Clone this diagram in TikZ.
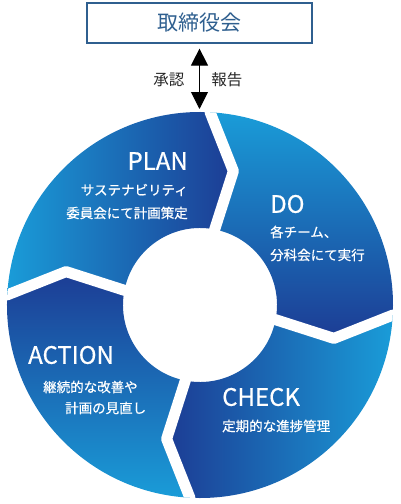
\documentclass[tikz,border=0pt]{standalone}
\usepackage{fontspec}
\setmainfont{Noto Sans CJK JP}
\newfontfamily\medfont{Noto Sans CJK JP}[FakeBold=0.6]
\usetikzlibrary{arrows.meta}
\definecolor{lightb}{HTML}{1A9CD8}
\definecolor{darkb}{HTML}{1C3C94}
\definecolor{titleblue}{HTML}{2F5F8F}
\begin{document}
\begin{tikzpicture}[x=1pt,y=1pt,
  seg/.style={top color=darkb, bottom color=lightb, shading angle=#1},
  gap/.style={draw=white, line width=11pt, line join=round, line cap=round},
  head/.style={text=white, font=\medfont\fontsize{24}{24}\selectfont, inner sep=0pt},
  sub/.style={text=white, font=\medfont\fontsize{13.5}{16}\selectfont, inner sep=0pt},
  lab/.style={text=black!85, font=\fontsize{15.5}{16}\selectfont, inner sep=0pt},
  board/.style={draw=titleblue, line width=1.2pt, text=titleblue,
    minimum width=225pt, minimum height=40pt, inner sep=0pt,
    font=\fontsize{21}{21}\selectfont},
]
\useasboundingbox (-200,-199) rectangle (200,305);
% ring segments
\shade[seg=-90] (177:193pt) arc[start angle=177, end angle=87, radius=193pt]
  -- (76:138pt) -- (79:77pt) arc[start angle=79, end angle=169, radius=77pt]
  -- (166:138pt) -- cycle;
\shade[seg=180] (87:193pt) arc[start angle=87, end angle=-3, radius=193pt]
  -- (-14:138pt) -- (-11:77pt) arc[start angle=-11, end angle=79, radius=77pt]
  -- (76:138pt) -- cycle;
\shade[seg=90] (-3:193pt) arc[start angle=-3, end angle=-93, radius=193pt]
  -- (-104:138pt) -- (-101:77pt) arc[start angle=-101, end angle=-11, radius=77pt]
  -- (-14:138pt) -- cycle;
\shade[seg=0] (-93:193pt) arc[start angle=-93, end angle=-183, radius=193pt]
  -- (-194:138pt) -- (-191:77pt) arc[start angle=-191, end angle=-101, radius=77pt]
  -- (-104:138pt) -- cycle;
% white gaps
\begin{scope}
\clip (0,0) circle[radius=193pt];
\foreach \a in {90,0,-90,180}{
  \draw[gap] (\a-3:205pt) -- (\a-3:193pt) -- (\a-14:138pt) -- (\a-11:77pt) -- (\a-11:65pt);
}
\end{scope}
% board and arrow
\node[board] (board) at (-0.5,282) {取締役会};
\coordinate (ringtop) at (-0.5,196);
\draw[line width=1pt, {Triangle[width=17pt,length=17pt]}-{Triangle[width=17pt,length=17pt]}]
  ([yshift=-5pt]board.south) -- (ringtop);
\node[lab] (appr) at (-31,225) {承認};
\node[lab] (rept) at (27,225) {報告};
% texts
\node[head, anchor=east] (plan) at (-12,144) {PLAN};
\node[sub, anchor=east] (plan1) at (-12,115) {サステナビリティ};
\node[sub, anchor=east] (plan2) at (-12,92) {委員会にて計画策定};
\node[head, anchor=west] (do) at (70,101) {DO};
\node[sub, anchor=west] (do1) at (70,73) {各チーム、};
\node[sub, anchor=west] (do2) at (70,50) {分科会にて実行};
\node[head, anchor=west] (check) at (22,-92) {CHECK};
\node[sub, anchor=west] (check1) at (22,-121) {定期的な進捗管理};
\node[head, anchor=west] (action) at (-172,-50) {ACTION};
\node[sub, anchor=west] (action1) at (-157,-82) {継続的な改善や};
\node[sub, anchor=west] (action2) at (-135,-103) {計画の見直し};
\end{tikzpicture}
\end{document}
